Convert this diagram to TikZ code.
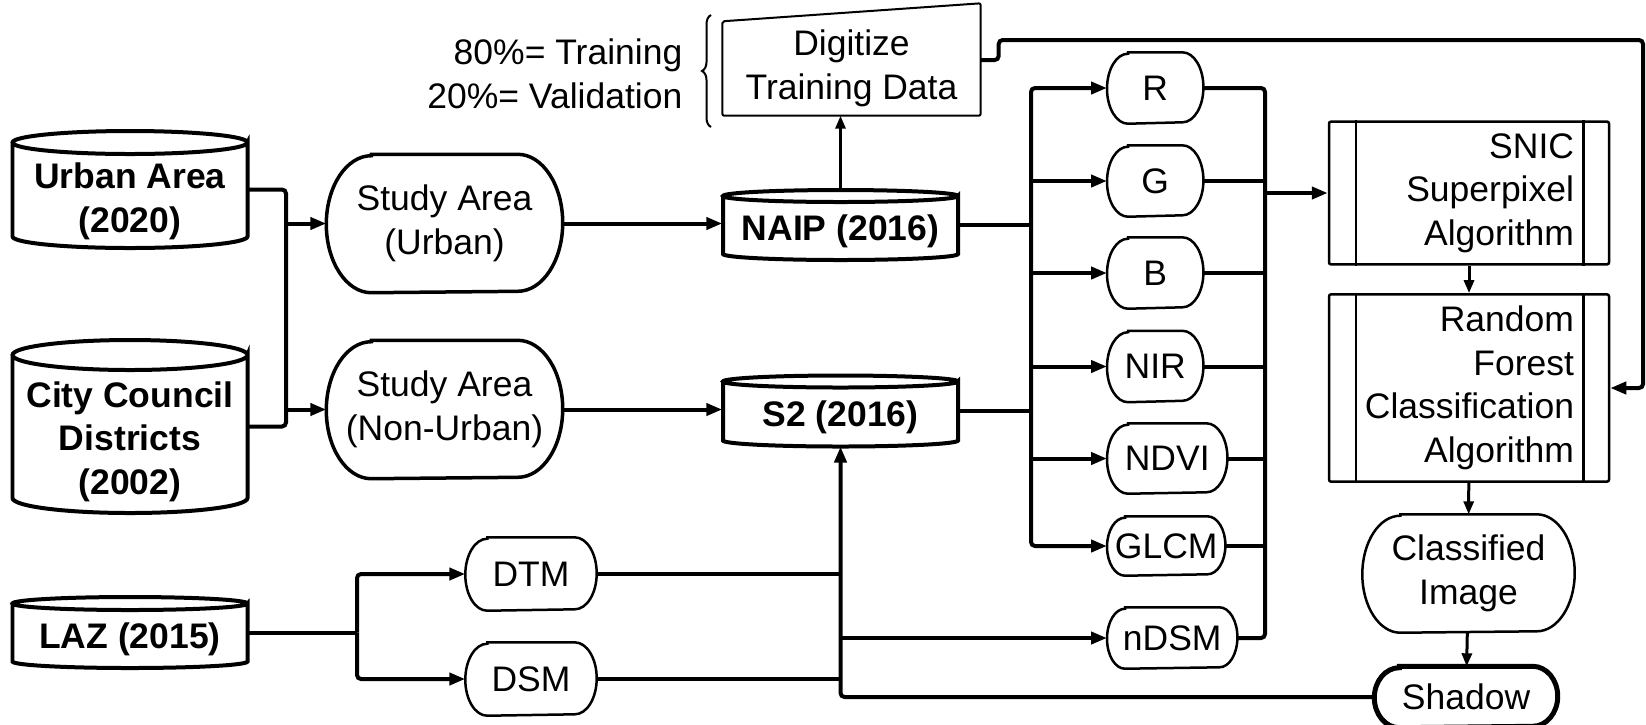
\documentclass[tikz,border=0pt]{standalone}
\usepackage{fontspec}
\setmainfont{Liberation Sans}
\usepackage{tikz}
\usetikzlibrary{arrows.meta}
\usetikzlibrary{decorations.pathreplacing}

% cylinder outline round a db node: name, half height, end radius
\newcommand{\drum}[3]{%
  \draw[line width=.04cm] ([shift={(-1.175,#2)}]#1.center) -- ([shift={(-1.175,-#2)}]#1.center)
    arc[start angle=180, end angle=360, x radius=1.175, y radius=#3]
    -- ([shift={(1.175,#2)}]#1.center)
    arc[start angle=0, end angle=-180, x radius=1.175, y radius=#3]
    arc[start angle=180, end angle=0, x radius=1.175, y radius=#3];
}
% box with half ellipse ends round a term node: name, end x radius, half height
\newcommand{\termshape}[4][]{%
  \draw[#1] ([xshift=#3cm]#2.north west) -- ([xshift=-#3cm]#2.north east)
    arc[start angle=90, end angle=-90, x radius=#3, y radius=#4]
    -- ([xshift=#3cm]#2.south west)
    arc[start angle=270, end angle=90, x radius=#3, y radius=#4] -- cycle;
}

\begin{document}
\begin{tikzpicture}[
    every node/.style={font=\fontsize{10.1}{12.4}\selectfont},
    conn/.style={line width=.04cm, rounded corners=.04cm},
    arr/.style={conn, -{Triangle[length=.16cm, width=.12cm]}},
    thinarr/.style={line width=.03cm, -{Triangle[length=.13cm, width=.1cm]}},
    db/.style={rectangle, inner sep=0, minimum width=2.35cm, align=center,
        font=\fontsize{10.1}{12.4}\selectfont\bfseries},
    term/.style={rectangle, inner sep=0, align=center},
    band/.style={term, minimum height=.7cm, minimum width=.95cm, anchor=west},
    proc/.style={rectangle, draw, line width=.025cm, rounded corners=.02cm, minimum width=2.8cm,
        text width=2.1cm, inner xsep=.35cm, align=right}
]
\useasboundingbox (0,0) rectangle (16.46,-7.24);

\node[db] (urban) at (1.30,-1.895) {\rule{0pt}{.49cm}Urban Area\\(2020)};
\node[db] (council) at (1.30,-4.265) {\rule{0pt}{.56cm}City Council\\Districts\\(2002)};
\node[db] (laz) at (1.30,-6.325) {\rule{0pt}{.39cm}LAZ (2015)};
\node[db] (naip) at (8.405,-2.25) {\rule{0pt}{.38cm}NAIP (2016)};
\node[db] (s2) at (8.405,-4.11) {\rule{0pt}{.38cm}S2 (2016)};
\drum{urban}{.47}{.115}
\drum{council}{.715}{.15}
\drum{laz}{.29}{.065}
\drum{naip}{.29}{.06}
\drum{s2}{.295}{.06}

\node[term, minimum width=2.35cm, minimum height=1.37cm] (st1) at (4.445,-2.235) {Study Area\\(Urban)};
\node[term, minimum width=2.35cm, minimum height=1.37cm] (st2) at (4.445,-4.095) {Study Area\\(Non-Urban)};
\foreach \n in {st1,st2} {
    \termshape[line width=.035cm]{\n}{.45}{.685}
}

\node[term, minimum width=1.3cm, minimum height=.72cm] (dtm) at (5.31,-5.74) {DTM};
\node[term, minimum width=1.3cm, minimum height=.72cm] (dsm) at (5.31,-6.79) {DSM};
\foreach \n in {dtm,dsm} {
    \termshape[line width=.025cm]{\n}{.22}{.36}
}

\node[minimum width=2.57cm, minimum height=.93cm, inner sep=0, align=center] (dig) at (8.515,-.685) {Digitize\\Training Data};
\draw[line width=.02cm, rounded corners=.02cm] (dig.south west) -- (dig.north west) -- ([yshift=.18cm]dig.north east) -- (dig.south east) -- cycle;
\node[anchor=east, align=right, inner sep=0] (split) at (6.83,-.74) {80\%= Training\\20\%= Validation};
\draw[line width=.02cm, decorate, decoration={brace, amplitude=.09cm}] (7.11,-1.27) -- (7.11,-.15);

\node[band] (r) at (11.07,-.88) {R};
\node[band] (g) at (11.07,-1.81) {G};
\node[band] (b) at (11.07,-2.73) {B};
\node[band] (nir) at (11.07,-3.665) {NIR};
\node[band, minimum width=1.19cm, minimum height=.69cm] (ndvi) at (11.07,-4.585) {NDVI};
\node[band, minimum width=1.17cm, minimum height=.58cm] (glcm) at (11.07,-5.46) {GLCM};
\node[band, minimum width=1.29cm, minimum height=.6cm] (ndsm) at (11.07,-6.38) {nDSM};
\foreach \n in {r,g,b,nir} {
    \termshape[line width=.025cm]{\n}{.21}{.35}
}
\termshape[line width=.025cm]{ndvi}{.21}{.345}
\termshape[line width=.025cm]{glcm}{.18}{.29}
\termshape[line width=.025cm]{ndsm}{.18}{.3}

\node[proc, minimum height=1.4cm] (snic) at (14.69,-1.93) {SNIC\\Superpixel\\Algorithm};
\node[proc, minimum height=1.8cm] (rf) at (14.69,-3.88) {Random\\Forest\\Classification\\Algorithm};
\foreach \p in {snic,rf} {
    \draw[line width=.025cm] ([xshift=.28cm]\p.north west) -- ([xshift=.28cm]\p.south west);
    \draw[line width=.025cm] ([xshift=-.27cm]\p.north east) -- ([xshift=-.27cm]\p.south east);
}
\node[term, minimum width=2.11cm, minimum height=1.17cm] (ci) at (14.685,-5.735) {Classified\\Image};
\termshape[line width=.025cm]{ci}{.38}{.585}
\node[term, minimum width=1.82cm, minimum height=.6cm] (shadow) at (14.66,-6.97) {Shadow};
\termshape[line width=.05cm]{shadow}{.25}{.3}

\coordinate (join) at (2.86,0);
\coordinate (lazjoin) at (3.57,0);
\coordinate (lbus) at (10.31,0);
\coordinate (rbus) at (12.65,0);
\coordinate (loop) at (16.43,-.40);

\draw[conn] (urban.east) -| (council.east -| join) -- (council.east);
\draw[arr] (st1.west -| join) -- (st1.west);
\draw[arr] (st2.west -| join) -- (st2.west);
\draw[arr] (st1.east) -- (st1.east -| naip.west);
\draw[arr] (st2.east) -- (st2.east -| s2.west);
\draw[thinarr] ([yshift=.35cm]naip.center) -- (naip.center |- dig.south);

\draw[conn] (laz.east) -- (laz.east -| lazjoin);
\draw[arr] (laz.east -| lazjoin) |- (dtm.west);
\draw[arr] (laz.east -| lazjoin) |- (dsm.west);
\draw[conn] (dtm.east) -- (dtm.east -| s2.center);
\draw[conn] (dsm.east) -- (dsm.east -| s2.center);
\draw[arr] (shadow.west) -| ([yshift=-.355cm]s2.center);
\draw[arr] (ndsm.west -| s2.center) -- (ndsm.west);

\draw[conn] (naip.east) -- (naip.east -| lbus);
\draw[conn] (s2.east) -- (s2.east -| lbus);
\draw[arr] (s2.east -| lbus) |- (r.west);
\draw[arr] (s2.east -| lbus) |- (glcm.west);
\foreach \n in {g,b,nir,ndvi}
    \draw[arr] (\n.west -| lbus) -- (\n.west);
\draw[conn] (r.east) -| (snic.west -| rbus);
\draw[conn] (ndsm.east) -| (snic.west -| rbus);
\foreach \n in {g,b,nir,ndvi,glcm}
    \draw[conn] (\n.east) -- (\n.east -| rbus);
\draw[arr] (snic.west -| rbus) -- (snic.west);

\draw[thinarr] (snic) -- (rf);
\draw[thinarr] (rf) -- (ci);
\draw[thinarr] (ci) -- (shadow);
\draw[arr] ([yshift=.085cm]dig.east) -- ++(.18,0) |- (loop) |- (rf.east);
\end{tikzpicture}
\end{document}
